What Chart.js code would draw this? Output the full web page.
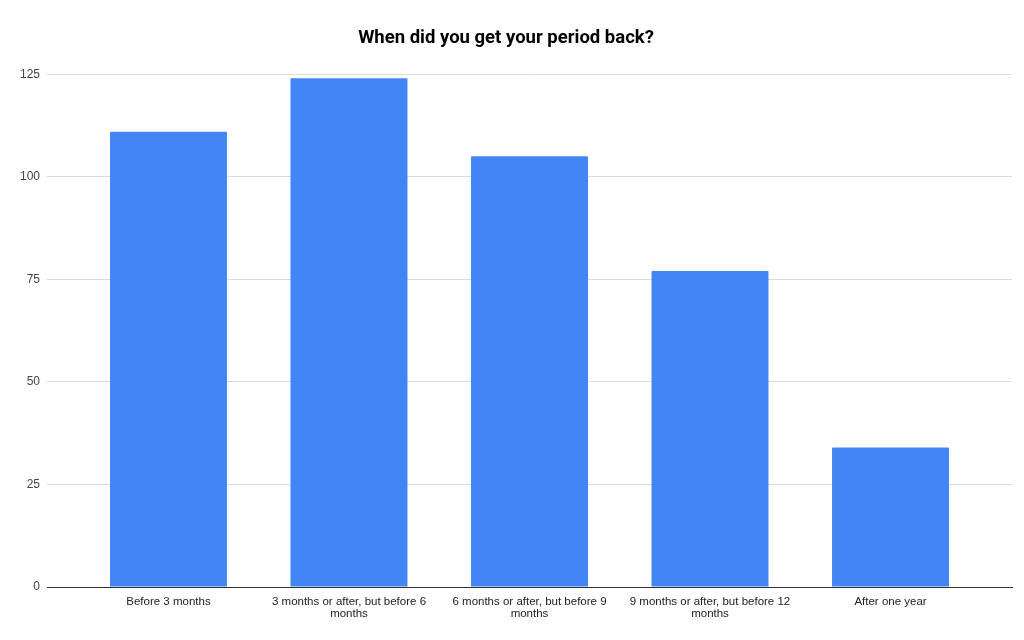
<!DOCTYPE html>
<html>
<head>
<meta charset="utf-8">
<script src="https://cdn.jsdelivr.net/npm/chart.js@4.4.1/dist/chart.umd.min.js"></script>
<style>
  html, body { margin: 0; padding: 0; background: #fff; }
  #wrap { width: 1024px; height: 640px; }
</style>
</head>
<body>
<div id="wrap"><canvas id="chart"></canvas></div>
<script>
// Data
const categories = [
    'Before 3 months',
    '3 months or after, but before 6 months',
    '6 months or after, but before 9 months',
    '9 months or after, but before 12 months',
    'After one year'
];
const counts = [111, 124, 105, 77, 34];
const yTicks = [0, 25, 50, 75, 100, 125];

// split a long label into lines (max chars per line)
function wrap(label, max) {
    const lines = [];
    let cur = '';
    label.split(' ').forEach(w => {
        const next = cur ? cur + ' ' + w : w;
        if (next.length > max && cur) {
            lines.push(cur);
            cur = w;
        } else {
            cur = next;
        }
    });
    if (cur) lines.push(cur);
    return lines;
}

const ctx = document.getElementById('chart').getContext('2d');
new Chart(ctx, {
    type: 'bar',
    data: {
        datasets: [{
            data: counts.map((v, i) => ({ x: i, y: v })),
            backgroundColor: '#4285f4',
            borderRadius: 1,
            barPercentage: 0.648,
            categoryPercentage: 1
        }]
    },
    options: {
        responsive: true,
        maintainAspectRatio: false,
        animation: false,
        layout: { padding: { left: 0, right: 12, top: 0, bottom: 0 } },
        plugins: {
            legend: { display: false },
            tooltip: { enabled: false },
            title: {
                display: true,
                text: 'When did you get your period back?',
                color: '#000',
                font: { family: 'Roboto', size: 18.5, weight: 'bold' },
                padding: { top: 27, bottom: 25 }
            }
        },
        scales: {
            x: {
                type: 'linear',
                offset: false,
                min: -0.673,
                max: 4.673,
                grid: { display: false },
                border: { display: true, color: '#333', width: 1 },
                afterBuildTicks: axis => {
                    axis.ticks = categories.map((_, i) => ({ value: i }));
                },
                afterFit: scale => { scale.height = 53; },
                ticks: {
                    autoSkip: false,
                    maxRotation: 0,
                    padding: 1,
                    color: '#222',
                    font: { family: 'Liberation Sans', size: 11.5, lineHeight: 1.05 },
                    callback: v => wrap(categories[v] || '', 32)
                }
            },
            y: {
                min: yTicks[0],
                max: yTicks[yTicks.length - 1],
                afterBuildTicks: axis => {
                    axis.ticks = yTicks.map(v => ({ value: v }));
                },
                afterFit: scale => { scale.width = 47; },
                grid: { color: '#dcdcdc', drawTicks: false },
                border: { display: false },
                ticks: {
                    padding: 7,
                    color: '#444',
                    font: { family: 'Liberation Sans', size: 12 }
                }
            }
        }
    }
});
</script>
</body>
</html>
